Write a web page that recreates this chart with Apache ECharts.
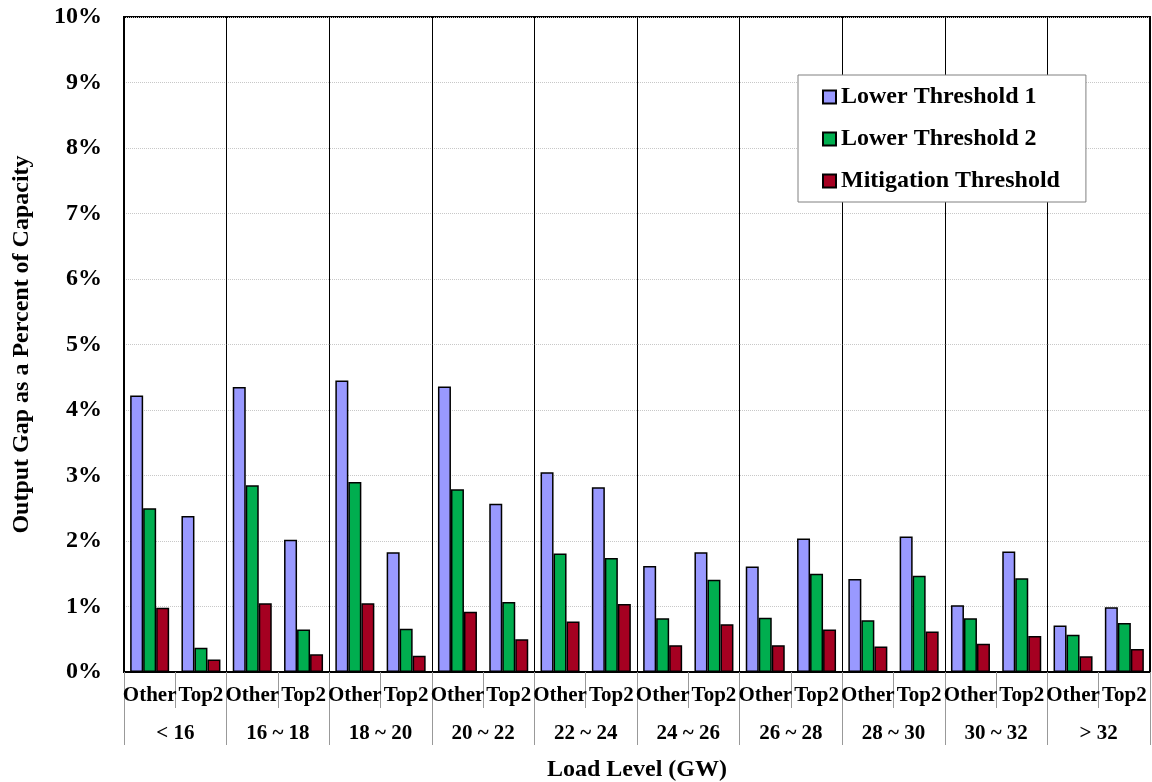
<!DOCTYPE html>
<html>
<head>
<meta charset="utf-8">
<script src="https://cdn.jsdelivr.net/npm/echarts@6/dist/echarts.min.js"></script>
<style>
  html, body { margin: 0; padding: 0; background: #fff; }
  #chart { width: 1152px; height: 782px; }
</style>
</head>
<body>
<div id="chart"></div>
<script>
// Load-level bands and the two unit groups inside each band
const loadLevels = ['< 16', '16 ~ 18', '18 ~ 20', '20 ~ 22', '22 ~ 24', '24 ~ 26', '26 ~ 28', '28 ~ 30', '30 ~ 32', '> 32'];
const unitGroups = ['Other', 'Top2'];

// Output gap (% of capacity), one value per band/group pair
const lowerThreshold1 = [4.22, 2.38, 4.35, 2.02, 4.45, 1.83, 4.36, 2.57, 3.05, 2.82, 1.62, 1.83, 1.61, 2.04, 1.42, 2.07, 1.02, 1.84, 0.71, 0.99];
const lowerThreshold2 = [2.50, 0.37, 2.85, 0.65, 2.90, 0.66, 2.79, 1.07, 1.81, 1.74, 0.82, 1.41, 0.83, 1.50, 0.79, 1.47, 0.82, 1.43, 0.57, 0.75];
const mitigationThreshold = [0.98, 0.19, 1.05, 0.27, 1.05, 0.25, 0.92, 0.50, 0.77, 1.04, 0.41, 0.73, 0.41, 0.65, 0.39, 0.62, 0.43, 0.55, 0.24, 0.35];

const yTicks = [0, 1, 2, 3, 4, 5, 6, 7, 8, 9, 10];

const subCategories = [];
loadLevels.forEach(() => unitGroups.forEach(g => subCategories.push(g)));

const FONT = '"Liberation Serif", "Times New Roman", serif';
const chart = echarts.init(document.getElementById('chart'));

function barSeries(name, data, color) {
  return {
    name: name,
    type: 'bar',
    data: data,
    barWidth: 13,
    barGap: '0%',
    itemStyle: { color: color, borderColor: '#000', borderWidth: 1.5 }
  };
}

chart.setOption({
  animation: false,
  backgroundColor: '#fff',
  textStyle: { fontFamily: FONT },
  grid: {
    left: 124, right: 2, top: 17, bottom: 110,
    outerBoundsMode: 'none',
    containLabel: false,
    show: true, borderColor: '#000', borderWidth: 2, backgroundColor: 'transparent'
  },
  legend: {
    orient: 'vertical',
    left: 798, top: 75,
    padding: [10, 26, 9, 24],
    itemGap: 18,
    itemWidth: 13, itemHeight: 13,
    backgroundColor: '#fff',
    borderColor: '#808080', borderWidth: 1,
    icon: 'rect',
    textStyle: { fontFamily: FONT, fontWeight: 'bold', fontSize: 24, color: '#000' },
    data: ['Lower Threshold 1', 'Lower Threshold 2', 'Mitigation Threshold']
  },
  xAxis: [
    {
      type: 'category',
      data: subCategories,
      position: 'bottom',
      axisLine: { show: true, lineStyle: { color: '#000', width: 2 } },
      axisTick: { show: true, interval: 0, length: 36, lineStyle: { color: '#999', width: 1 } },
      axisLabel: {
        interval: 0, margin: 13, hideOverlap: false,
        fontFamily: FONT, fontWeight: 'bold', fontSize: 21, color: '#000'
      },
      splitLine: { show: false }
    },
    {
      type: 'category',
      data: loadLevels,
      position: 'bottom',
      axisLine: { show: false },
      axisTick: { show: true, interval: 0, length: 73, lineStyle: { color: '#999', width: 1 } },
      axisLabel: {
        interval: 0, margin: 51,
        fontFamily: FONT, fontWeight: 'bold', fontSize: 21, color: '#000'
      },
      splitLine: { show: true, interval: 0, lineStyle: { color: '#000', width: 1 } },
      name: 'Load Level (GW)',
      nameLocation: 'middle',
      nameGap: 86,
      nameTextStyle: { fontFamily: FONT, fontWeight: 'bold', fontSize: 24, color: '#000' }
    }
  ],
  yAxis: {
    type: 'value',
    min: yTicks[0], max: yTicks[yTicks.length - 1], interval: 1,
    axisLine: { show: true, lineStyle: { color: '#000', width: 2 } },
    axisTick: { show: false },
    axisLabel: {
      formatter: '{value}%', margin: 22,
      fontFamily: FONT, fontWeight: 'bold', fontSize: 24, color: '#000'
    },
    splitLine: { show: true, lineStyle: { color: '#c8c8c8', width: 1, type: 'dotted' } },
    name: 'Output Gap as a Percent of Capacity',
    nameLocation: 'middle',
    nameRotate: 90,
    nameGap: 90,
    nameTextStyle: { fontFamily: FONT, fontWeight: 'bold', fontSize: 24, color: '#000' }
  },
  series: [
    barSeries('Lower Threshold 1', lowerThreshold1, '#9999ff'),
    barSeries('Lower Threshold 2', lowerThreshold2, '#00ae4f'),
    barSeries('Mitigation Threshold', mitigationThreshold, '#a50021')
  ]
});
</script>
</body>
</html>
